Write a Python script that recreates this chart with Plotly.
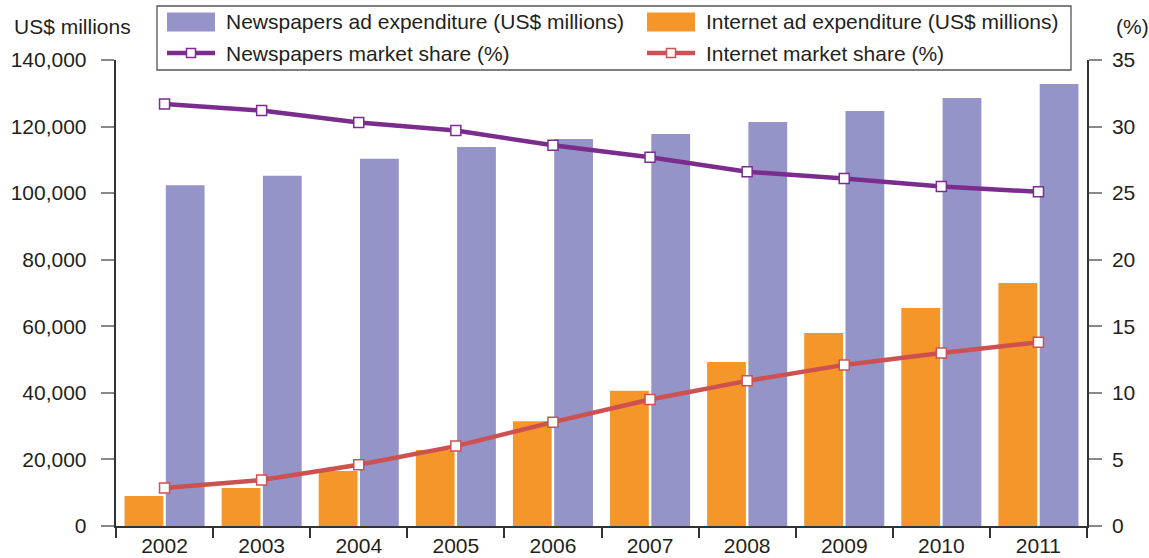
import plotly.graph_objects as go

years = ["2002", "2003", "2004", "2005", "2006", "2007", "2008", "2009", "2010", "2011"]
newspapers_adexp = [102400, 105200, 110300, 113900, 116300, 117800, 121400, 124700, 128600, 132800]
internet_adexp = [9000, 11400, 16500, 22800, 31500, 40600, 49300, 58000, 65500, 73000]
newspapers_share = [31.7, 31.2, 30.3, 29.7, 28.6, 27.7, 26.6, 26.1, 25.5, 25.1]
internet_share = [2.85, 3.45, 4.6, 6.0, 7.8, 9.5, 10.9, 12.1, 13.0, 13.8]

PURPLE_BAR = "#9494C8"
ORANGE_BAR = "#F5962A"
PURPLE_LINE = "#7B2D8E"
RED_LINE = "#CD5150"
TEXT = "#231F20"
FONT = "Liberation Sans, Arial, sans-serif"
FS = 21

W, H = 1149, 558
ML, MR, MT, MB = 116, 62, 60, 32
PW, PH = W - ML - MR, H - MT - MB


def px(xp):
    return (xp - ML) / PW


def py(yp):
    return (H - MB - yp) / PH


fig = go.Figure()
fig.add_trace(go.Bar(x=years, y=internet_adexp, name="Internet ad expenditure (US$ millions)",
                     marker=dict(color=ORANGE_BAR, line=dict(width=0))))
fig.add_trace(go.Bar(x=years, y=newspapers_adexp, name="Newspapers ad expenditure (US$ millions)",
                     marker=dict(color=PURPLE_BAR, line=dict(width=0))))
fig.add_trace(go.Scatter(x=years, y=newspapers_share, name="Newspapers market share (%)", yaxis="y2",
                         mode="lines+markers", line=dict(color=PURPLE_LINE, width=4.5),
                         marker=dict(symbol="square", size=10, color="white",
                                     line=dict(color=PURPLE_LINE, width=1.5))))
fig.add_trace(go.Scatter(x=years, y=internet_share, name="Internet market share (%)", yaxis="y2",
                         mode="lines+markers", line=dict(color=RED_LINE, width=4.5),
                         marker=dict(symbol="square", size=10, color="white",
                                     line=dict(color=RED_LINE, width=1.5))))

# Manual legend (wide swatches as in the reference)
legend_items = [
    ("Newspapers ad expenditure (US$ millions)", "bar", PURPLE_BAR, 167, 22),
    ("Internet ad expenditure (US$ millions)", "bar", ORANGE_BAR, 647, 22),
    ("Newspapers market share (%)", "line", PURPLE_LINE, 167, 53),
    ("Internet market share (%)", "line", RED_LINE, 647, 53),
]
shapes = [dict(type="rect", xref="paper", yref="paper", x0=px(157), x1=px(1071), y0=py(70), y1=py(6),
               line=dict(color="#555555", width=1.3), fillcolor="white", layer="above")]
annotations = []
for label, kind, color, x0, yc in legend_items:
    if kind == "bar":
        shapes.append(dict(type="rect", xref="paper", yref="paper", x0=px(x0), x1=px(x0 + 48),
                           y0=py(yc + 9.5), y1=py(yc - 9.5), line=dict(width=0), fillcolor=color,
                           layer="above"))
    else:
        shapes.append(dict(type="line", xref="paper", yref="paper", x0=px(x0), x1=px(x0 + 48),
                           y0=py(yc), y1=py(yc), line=dict(color=color, width=4.5), layer="above"))
        shapes.append(dict(type="rect", xref="paper", yref="paper", x0=px(x0 + 19.5), x1=px(x0 + 28.5),
                           y0=py(yc + 4.5), y1=py(yc - 4.5), line=dict(color=color, width=1.5),
                           fillcolor="white", layer="above"))
    annotations.append(dict(text=label, xref="paper", yref="paper", x=px(x0 + 57), y=py(yc),
                            xanchor="left", yanchor="middle", showarrow=False,
                            font=dict(family=FONT, size=FS, color=TEXT)))

annotations += [
    dict(text="US$ millions", xref="paper", yref="paper", x=px(12), y=py(26),
         xanchor="left", yanchor="middle", showarrow=False, font=dict(size=FS, color=TEXT)),
    dict(text="(%)", xref="paper", yref="paper", x=px(1114), y=py(26),
         xanchor="left", yanchor="middle", showarrow=False, font=dict(size=FS, color=TEXT)),
]

fig.update_layout(
    width=W, height=H,
    margin=dict(l=ML, r=MR, t=MT, b=MB, autoexpand=False),
    paper_bgcolor="white", plot_bgcolor="white",
    font=dict(family=FONT, size=FS, color=TEXT),
    barmode="group", bargap=0.15, bargroupgap=0.06,
    showlegend=False,
    xaxis=dict(type="category", showgrid=False, showline=True, linecolor="#333333", linewidth=1.5,
               ticks="outside", tickson="boundaries", ticklen=10, tickcolor="#333333", tickwidth=1.5,
               tickfont=dict(size=FS), range=[-0.5, 9.5]),
    yaxis=dict(range=[0, 140000], dtick=20000, tickformat=",d", showgrid=False, zeroline=False,
               showline=True, linecolor="#333333", linewidth=1.5,
               ticks="outside", ticklen=13, tickcolor="#888888", tickwidth=1.5,
               ticksuffix="\u2002", tickfont=dict(size=FS)),
    yaxis2=dict(range=[0, 35], dtick=5, overlaying="y", side="right", showgrid=False, zeroline=False,
                showline=True, linecolor="#333333", linewidth=1.5,
                ticks="outside", ticklen=13, tickcolor="#888888", tickwidth=1.5,
                ticklabelstandoff=6, tickfont=dict(size=FS)),
    shapes=shapes,
    annotations=annotations,
)

fig.write_html("out.html")
